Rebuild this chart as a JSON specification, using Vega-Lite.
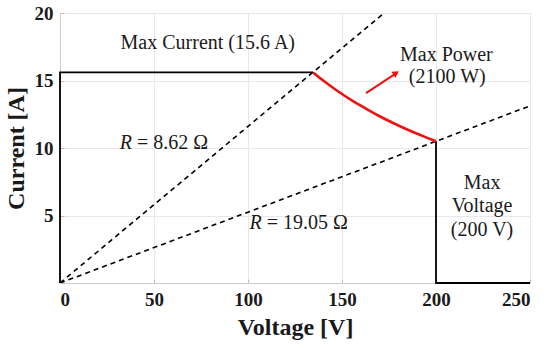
{
  "$schema": "https://vega.github.io/schema/vega-lite/v6.json",
  "width": 470,
  "height": 270,
  "autosize": {"type": "none"},
  "padding": {"left": 60, "top": 13, "right": 20, "bottom": 67},
  "background": "white",
  "config": {
    "font": "Liberation Serif",
    "view": {"stroke": "#cccccc", "strokeWidth": 1},
    "axis": {
      "labelFont": "Liberation Serif",
      "titleFont": "Liberation Serif",
      "labelFontWeight": "bold",
      "titleFontWeight": "bold",
      "labelFontSize": 19,
      "titleFontSize": 24,
      "labelColor": "#1a1a1a",
      "titleColor": "#1a1a1a",
      "domainColor": "#cccccc",
      "gridColor": "#e8e8e8",
      "tickColor": "#bbbbbb",
      "tickSize": -4
    }
  },
  "layer": [
    {
      "data": {"values": [
        {"line": "R1", "v": 0, "i": 0},
        {"line": "R1", "v": 172.4, "i": 20},
        {"line": "R2", "v": 0, "i": 0},
        {"line": "R2", "v": 250, "i": 13.12}
      ]},
      "mark": {"type": "line", "color": "black", "strokeWidth": 1.6, "strokeDash": [5, 4], "clip": true},
      "encoding": {
        "x": {"field": "v", "type": "quantitative", "scale": {"domain": [0, 250], "nice": false},
              "axis": {"title": "Voltage [V]", "values": [0, 50, 100, 150, 200, 250], "grid": true, "labelPadding": 11, "titlePadding": 6}},
        "y": {"field": "i", "type": "quantitative", "scale": {"domain": [0, 20], "nice": false},
              "axis": {"title": "Current [A]", "values": [0, 5, 10, 15, 20], "grid": true, "labelExpr": "datum.value == 0 ? '' : datum.label", "labelPadding": 11, "titlePadding": 6}},
        "detail": {"field": "line"}
      }
    },
    {
      "data": {"values": [
        {"seg": "a", "o": 0, "v": 0, "i": 0},
        {"seg": "a", "o": 1, "v": 0, "i": 15.6},
        {"seg": "a", "o": 2, "v": 134.6, "i": 15.6},
        {"seg": "b", "o": 0, "v": 200, "i": 10.5},
        {"seg": "b", "o": 1, "v": 200, "i": 0},
        {"seg": "b", "o": 2, "v": 250, "i": 0}
      ]},
      "mark": {"type": "line", "color": "black", "strokeWidth": 1.8},
      "encoding": {
        "x": {"field": "v", "type": "quantitative"},
        "y": {"field": "i", "type": "quantitative"},
        "detail": {"field": "seg"},
        "order": {"field": "o"}
      }
    },
    {
      "data": {"values": [
        {"v": 134.6, "i": 15.6},
        {"v": 140, "i": 15.0},
        {"v": 145, "i": 14.48},
        {"v": 150, "i": 14.0},
        {"v": 155, "i": 13.55},
        {"v": 160, "i": 13.13},
        {"v": 165, "i": 12.73},
        {"v": 170, "i": 12.35},
        {"v": 175, "i": 12.0},
        {"v": 180, "i": 11.67},
        {"v": 185, "i": 11.35},
        {"v": 190, "i": 11.05},
        {"v": 195, "i": 10.77},
        {"v": 200, "i": 10.5}
      ]},
      "mark": {"type": "line", "color": "#ee1111", "strokeWidth": 2.6, "interpolate": "monotone"},
      "encoding": {
        "x": {"field": "v", "type": "quantitative"},
        "y": {"field": "i", "type": "quantitative"}
      }
    },
    {
      "data": {"values": [
        {"v": 162.8, "i": 14.07},
        {"v": 178.5, "i": 15.51}
      ]},
      "mark": {"type": "line", "color": "#ee1111", "strokeWidth": 2},
      "encoding": {
        "x": {"field": "v", "type": "quantitative"},
        "y": {"field": "i", "type": "quantitative"}
      }
    },
    {
      "data": {"values": [{"v": 178.8, "i": 15.55}]},
      "mark": {"type": "point", "shape": "triangle-up", "filled": true, "color": "#ee1111", "size": 55, "angle": 57, "opacity": 1},
      "encoding": {
        "x": {"field": "v", "type": "quantitative"},
        "y": {"field": "i", "type": "quantitative"}
      }
    },
    {
      "data": {"values": [
        {"v": 78.6, "i": 17.8, "t": "Max Current (15.6 A)"},
        {"v": 205.5, "i": 16.9, "t": "Max Power"},
        {"v": 206, "i": 15.26, "t": "(2100 W)"},
        {"v": 224.5, "i": 7.4, "t": "Max"},
        {"v": 224.5, "i": 5.7, "t": "Voltage"},
        {"v": 224.5, "i": 3.93, "t": "(200 V)"}
      ]},
      "mark": {"type": "text", "fontSize": 20, "baseline": "middle", "align": "center", "color": "#1a1a1a"},
      "encoding": {
        "x": {"field": "v", "type": "quantitative"},
        "y": {"field": "i", "type": "quantitative"},
        "text": {"field": "t"}
      }
    },
    {
      "data": {"values": [
        {"v": 41, "i": 10.37, "t": "= 8.62 Ω"},
        {"v": 110, "i": 4.44, "t": "= 19.05 Ω"}
      ]},
      "mark": {"type": "text", "fontSize": 20, "baseline": "middle", "align": "left", "color": "#1a1a1a"},
      "encoding": {
        "x": {"field": "v", "type": "quantitative"},
        "y": {"field": "i", "type": "quantitative"},
        "text": {"field": "t"}
      }
    },
    {
      "data": {"values": [
        {"v": 41, "i": 10.37, "t": "R"},
        {"v": 110, "i": 4.44, "t": "R"}
      ]},
      "mark": {"type": "text", "fontSize": 20, "fontStyle": "italic", "baseline": "middle", "align": "right", "dx": -5, "color": "#1a1a1a"},
      "encoding": {
        "x": {"field": "v", "type": "quantitative"},
        "y": {"field": "i", "type": "quantitative"},
        "text": {"field": "t"}
      }
    }
  ]
}
